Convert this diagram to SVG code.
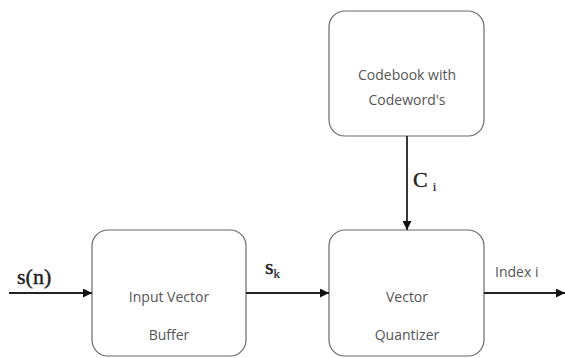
<svg xmlns="http://www.w3.org/2000/svg" width="565" height="358" viewBox="0 0 565 358">
<style>
.box{fill:#fff;stroke:#6a6a6a;stroke-width:1.2}
.lbl{font-family:"Open Sans","Liberation Sans",sans-serif;font-size:14px;fill:#555;text-anchor:middle}
.math{font-family:"Liberation Serif",serif;font-size:22px;fill:#222;stroke:#222;stroke-width:0.4}
.sub{font-family:"Liberation Serif",serif;font-size:13px;stroke-width:0.2}
.wire{stroke:#222;stroke-width:1.8;fill:none}
</style>
<defs>
<marker id="ah" viewBox="0 0 10 10" refX="10" refY="5" markerWidth="9" markerHeight="9" markerUnits="userSpaceOnUse" orient="auto">
<path d="M0,0 L10,5 L0,10 z" fill="#111"/>
</marker>
</defs>
<g id="codebook">
<rect class="box" x="329" y="11" width="155" height="125" rx="16"/>
<text class="lbl" x="407" y="80">Codebook with</text>
<text class="lbl" x="407" y="105">Codeword's</text>
</g>
<g id="buffer">
<rect class="box" x="92" y="230" width="154" height="126" rx="16"/>
<text class="lbl" x="169" y="302">Input Vector</text>
<text class="lbl" x="169" y="340">Buffer</text>
</g>
<g id="quantizer">
<rect class="box" x="329" y="230" width="155" height="126" rx="16"/>
<text class="lbl" x="407" y="302">Vector</text>
<text class="lbl" x="407" y="340">Quantizer</text>
</g>
<g id="connectors">
<line class="wire" x1="9" y1="293" x2="92" y2="293" marker-end="url(#ah)"/>
<line class="wire" x1="246" y1="293" x2="329" y2="293" marker-end="url(#ah)"/>
<line class="wire" x1="484" y1="293" x2="565" y2="293" marker-end="url(#ah)"/>
<line class="wire" x1="407" y1="136" x2="407" y2="230" marker-end="url(#ah)"/>
</g>
<g id="labels">
<text class="math" x="17" y="284">s(n)</text>
<text class="math" x="265" y="274">s<tspan class="sub" dy="4">k</tspan></text>
<text class="math" x="413" y="187">C<tspan class="sub" dy="4" dx="5">i</tspan></text>
<text class="lbl" x="495" y="277" style="text-anchor:start">Index i</text>
</g>
</svg>
